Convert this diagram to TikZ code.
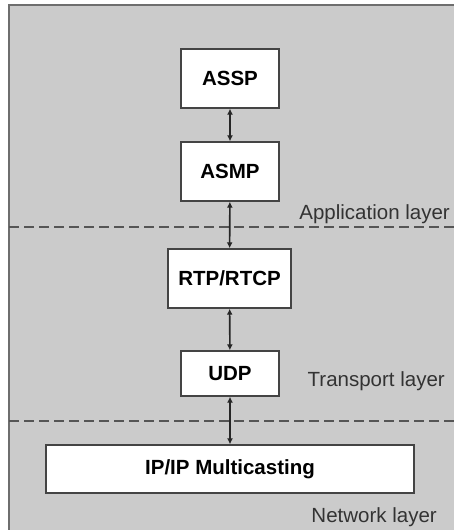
\documentclass[tikz,border=0pt]{standalone}
\usepackage{fontspec}
\setmainfont{Liberation Sans}
\usetikzlibrary{arrows.meta}
\definecolor{panelgray}{HTML}{CBCBCB}
\definecolor{framegray}{HTML}{6E6E6E}
\definecolor{boxline}{HTML}{444444}
\definecolor{dashgray}{HTML}{555555}
\begin{document}
\begin{tikzpicture}[x=1pt,y=-1pt]
    \tikzstyle{every node}+=[inner sep=0pt]
    \tikzstyle{layerbox}=[draw=boxline, line width=1.4pt, fill=white, font=\fontsize{20.5}{24}\selectfont\bfseries]
    \tikzstyle{layername}=[font=\fontsize{20.5}{24}\selectfont, text=black!80]
    \tikzstyle{link}=[{Latex[length=6pt,width=6pt]}-{Latex[length=6pt,width=6pt]}, line width=1.6pt, draw=black!85]
    \useasboundingbox (0,0) rectangle (454,530);
    % panel
    \fill [panelgray] (9,5) rectangle (460,536);
    \draw [framegray, line width=1.8pt] (9,536) -- (9,5) -- (460,5);
    % layer borders
    \coordinate (applL) at (9,227);
    \coordinate (applR) at (454,227);
    \coordinate (tranL) at (9,421);
    \coordinate (tranR) at (454,421);
    \draw [dashgray, line width=1.5pt, dash pattern=on 10pt off 5pt] (applL) -- (applR);
    \draw [dashgray, line width=1.5pt, dash pattern=on 10pt off 5pt] (tranL) -- (tranR);
    % protocol stack
    \node [layerbox, minimum width=98pt, minimum height=59pt] (assp) at (230,78.5) {ASSP};
    \node [layerbox, minimum width=98pt, minimum height=59pt] (asmp) at (230,171.5) {ASMP};
    \node [layerbox, minimum width=123pt, minimum height=59pt] (rtp) at (229.5,278.5) {RTP/RTCP};
    \node [layerbox, minimum width=98pt, minimum height=45pt] (udp) at (230,373.5) {UDP};
    \node [layerbox, minimum width=368pt, minimum height=48pt] (ip) at (230,469) {IP/IP Multicasting};
    \draw [link] (assp) -- (asmp);
    \draw [link] (asmp) -- (rtp);
    \draw [link] (rtp) -- (udp);
    \draw [link] (udp) -- (ip);
    % layer names
    \node [layername, anchor=base east] (appl) at (450,219) {Application layer};
    \node [layername, anchor=base east] (tran) at (445,386) {Transport layer};
    \node [layername, anchor=base east] (netw) at (437,522) {Network layer};
\end{tikzpicture}
\end{document}
